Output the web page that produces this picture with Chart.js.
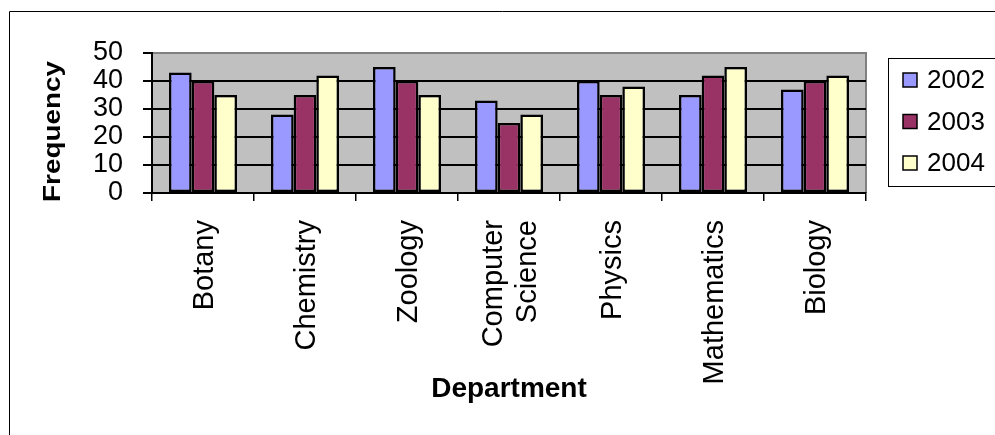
<!DOCTYPE html>
<html>
<head>
<meta charset="utf-8">
<script src="https://cdn.jsdelivr.net/npm/chart.js@4/dist/chart.umd.min.js"></script>
<style>
  html, body { margin: 0; padding: 0; background: #fff; }
  #wrap { position: relative; width: 995px; height: 435px; }
  canvas { display: block; }
</style>
</head>
<body>
<div id="wrap"><canvas id="chart" width="995" height="435"></canvas></div>
<script>
// Enrolment frequency by department, 2002-2004
const departments = ['Botany', 'Chemistry', 'Zoology', ['Computer', 'Science'], 'Physics', 'Mathematics', 'Biology'];
const freq2002 = [43, 28, 45, 33, 40, 35, 37];
const freq2003 = [40, 35, 40, 25, 35, 42, 40];
const freq2004 = [35, 42, 35, 28, 38, 45, 42];
const seriesLabels = ['2002', '2003', '2004'];
const seriesColors = ['#9999FF', '#993366', '#FFFFCC'];
const yMin = 0, yMax = 50, yStep = 10;

const FONT = '"Liberation Sans", Arial, sans-serif';

// Grey plot area with a grey top/right frame
const plotBackground = {
  id: 'plotBackground',
  beforeDraw(chart) {
    const { ctx, chartArea: a } = chart;
    ctx.save();
    ctx.fillStyle = '#C0C0C0';
    ctx.fillRect(a.left, a.top, a.right - a.left, a.bottom - a.top);
    ctx.strokeStyle = '#808080';
    ctx.lineWidth = 2;
    ctx.beginPath();
    ctx.moveTo(a.left, a.top);
    ctx.lineTo(a.right, a.top);
    ctx.lineTo(a.right, a.bottom);
    ctx.stroke();
    ctx.restore();
  }
};

// Outer frame, vertical category labels, axis titles and boxed legend
const decorations = {
  id: 'decorations',
  afterDraw(chart) {
    const { ctx, chartArea: a } = chart;
    const xScale = chart.scales.x;
    ctx.save();

    // chart frame (top and left edges)
    ctx.strokeStyle = '#000';
    ctx.lineWidth = 1;
    ctx.beginPath();
    ctx.moveTo(9.5, 440);
    ctx.lineTo(9.5, 11.5);
    ctx.lineTo(1000, 11.5);
    ctx.stroke();

    // category labels, read bottom-to-top, multi-line labels centred on the category
    ctx.fillStyle = '#000';
    ctx.font = '29px ' + FONT;
    ctx.textAlign = 'right';
    ctx.textBaseline = 'middle';
    const lineGap = 34;
    chart.data.labels.forEach((lab, i) => {
      const lines = Array.isArray(lab) ? lab : [lab];
      const cx = xScale.getPixelForValue(i) + 2;
      lines.forEach((txt, j) => {
        const off = (j - (lines.length - 1) / 2) * lineGap;
        ctx.save();
        ctx.translate(cx + off, a.bottom + 27);
        ctx.rotate(-Math.PI / 2);
        ctx.fillText(txt, 0, 0);
        ctx.restore();
      });
    });

    // x-axis title
    ctx.font = 'bold 28px ' + FONT;
    ctx.textAlign = 'center';
    ctx.textBaseline = 'alphabetic';
    ctx.fillText('Department', (a.left + a.right) / 2, 397);

    // y-axis title
    ctx.save();
    ctx.translate(60, 131.5);
    ctx.rotate(-Math.PI / 2);
    ctx.scale(1.16, 1);
    ctx.font = 'bold 24px ' + FONT;
    ctx.fillText('Frequency', 0, 0);
    ctx.restore();

    // legend
    ctx.strokeStyle = '#000';
    ctx.lineWidth = 1;
    ctx.strokeRect(888.5, 58.5, 130, 128);
    ctx.font = '26px ' + FONT;
    ctx.textAlign = 'left';
    ctx.textBaseline = 'middle';
    chart.data.datasets.forEach((ds, i) => {
      const cy = 80 + i * 41.5;
      ctx.fillStyle = ds.backgroundColor;
      ctx.fillRect(903, cy - 7, 14, 14);
      ctx.lineWidth = 1.5;
      ctx.strokeStyle = '#000';
      ctx.strokeRect(903, cy - 7, 14, 14);
      ctx.fillStyle = '#000';
      ctx.fillText(ds.label, 927, cy + 1);
    });
    ctx.restore();
  }
};

const makeSet = (label, data, color) => ({
  label, data,
  backgroundColor: color,
  borderColor: '#000',
  borderWidth: 2.5,
  borderSkipped: false,
  categoryPercentage: 0.667,
  barPercentage: 1.0
});

new Chart(document.getElementById('chart'), {
  type: 'bar',
  data: {
    labels: departments,
    datasets: [
      makeSet(seriesLabels[0], freq2002, seriesColors[0]),
      makeSet(seriesLabels[1], freq2003, seriesColors[1]),
      makeSet(seriesLabels[2], freq2004, seriesColors[2])
    ]
  },
  options: {
    responsive: false,
    animation: false,
    devicePixelRatio: 1,
    layout: { padding: { left: 0, top: 53, right: 129, bottom: 0 } },
    plugins: {
      legend: { display: false },
      tooltip: { enabled: false }
    },
    scales: {
      x: {
        offset: true,
        afterFit(scale) { scale.height = 242; },
        grid: {
          offset: true,
          drawOnChartArea: false,
          drawTicks: true,
          tickLength: 8,
          color: '#000',
          lineWidth: 1.5
        },
        border: { display: true, color: '#000', width: 2 },
        ticks: { display: false, autoSkip: false }
      },
      y: {
        min: yMin,
        max: yMax,
        afterFit(scale) { scale.width = 152; },
        grid: {
          drawTicks: true,
          tickLength: 9,
          color: (c) => (c.tick && c.tick.value === yMax ? '#808080' : '#000'),
          tickColor: '#000',
          lineWidth: 2
        },
        border: { display: true, color: '#000', width: 2 },
        ticks: {
          stepSize: yStep,
          autoSkip: false,
          padding: 20,
          color: '#000',
          font: { family: FONT, size: 27, lineHeight: 1 }
        }
      }
    }
  },
  plugins: [plotBackground, decorations]
});
</script>
</body>
</html>
